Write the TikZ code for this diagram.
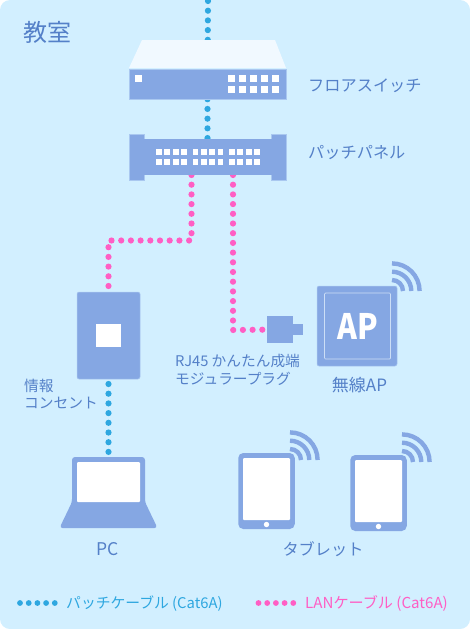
\documentclass[tikz,border=0pt]{standalone}
\usepackage{fontspec}
\setmainfont{Noto Sans CJK JP}
\usepackage{xcolor}
\usetikzlibrary{positioning,backgrounds}
\definecolor{roomc}{RGB}{210,239,255}
\definecolor{devc}{RGB}{133,167,227}
\definecolor{edgec}{RGB}{170,200,240}
\definecolor{labelc}{RGB}{84,128,200}
\definecolor{patchc}{RGB}{46,167,224}
\definecolor{lanc}{RGB}{255,94,196}
\definecolor{lidc}{RGB}{241,249,255}
\pgfdeclarelayer{roomlayer}
\pgfsetlayers{roomlayer,background,main}
\tikzset{
  room/.style={fill=roomc, rounded corners=10pt, minimum width=470pt, minimum height=629pt, inner sep=0pt},
  dev/.style={fill=devc, draw=edgec, line width=0.5pt, inner sep=0pt},
  hole/.style={fill=white, inner sep=0pt},
  lbl/.style={font=\fontsize{16.2}{19}\selectfont, text=labelc, inner sep=0pt, align=left},
  smalllbl/.style={lbl, anchor=north west, font=\fontsize{14.7}{17.7}\selectfont},
  patchcable/.style={draw=patchc, line width=6.2pt, line cap=round, dash pattern=on 0pt off 9.7pt},
  lancable/.style={draw=lanc, line width=6.2pt, line cap=round, dash pattern=on 0pt off 9.7pt},
  keydot/.style={circle, inner sep=0pt, minimum size=5.8pt},
  wave/.style={draw=devc, line width=4.4pt}
}
\newcommand{\wifi}[2]{%
  \foreach \r in {11,19.3,27.6}
    \draw[wave] (#1,#2) ++(0,-\r) arc[start angle=90, end angle=0, radius=\r pt];
}
\begin{document}
\begin{tikzpicture}[x=1pt,y=-1pt]
  \useasboundingbox (0,0) rectangle (470,629);
  \begin{pgfonlayer}{roomlayer}
    \node[room] (classroom) at (235,314.5) {};
  \end{pgfonlayer}

  % devices
  \fill[lidc] (142,40) -- (275,40) -- (286,68) -- (129,68) -- cycle;
  \node[dev, minimum width=157pt, minimum height=30pt] (flswitch) at (207.5,84) {};
  \node[hole, minimum size=7pt] (uplink) at (138.5,78.5) {};
  \foreach \x in {0,...,4} \foreach \y in {0,1}
    \node[hole, minimum size=7pt] (swport\x\y) at (231.5+11*\x,78.5+11*\y) {};

  \node[dev, minimum width=15pt, minimum height=46pt] (flangeL) at (136.5,157) {};
  \node[dev, minimum width=15pt, minimum height=46pt] (flangeR) at (278.5,157) {};
  \node[fill=devc, inner sep=0pt, minimum width=128pt, minimum height=36pt] (panel) at (207.5,157) {};
  \foreach \x in {159,167.3,175.7,184, 195.5,203.8,212.2,220.5, 232,240.3,248.7,257} {
    \node[hole, minimum width=5.8pt, minimum height=6pt] at (\x,152) {};
    \node[hole, minimum width=5.8pt, minimum height=6pt] at (\x,162) {};
  }

  \node[dev, rounded corners=2pt, minimum width=63pt, minimum height=87pt] (outlet) at (108.5,335.5) {};
  \node[hole, minimum width=25pt, minimum height=23pt] (jack) at (108.5,335.5) {};

  \node[fill=devc, inner sep=0pt, minimum width=26pt, minimum height=27pt] (plug) at (280,329.5) {};
  \node[fill=devc, inner sep=0pt, minimum width=10pt, minimum height=11pt, right=0pt of plug] (plugtab) {};

  \node[dev, rounded corners=2pt, minimum size=80pt] (ap) at (357,326) {};
  \node[draw=edgec!60!white, line width=0.7pt, inner sep=0pt, rounded corners=1pt, minimum size=66pt,
    font=\fontsize{35}{35}\selectfont\bfseries, text=white] (aplabel) at (357.5,326) {\scalebox{0.86}[1]{AP}};
  \wifi{392}{291}

  \fill[devc, rounded corners=3pt] (72,502) -- (72,457) -- (145,457) -- (145,502) -- (157.5,528) -- (59.5,528) -- cycle;
  \node[hole, rounded corners=1pt, minimum width=63pt, minimum height=40pt] (pcscreen) at (108.5,482) {};
  \coordinate (pctop) at (108.5,457);

  \node[fill=devc, rounded corners=5pt, inner sep=0pt, minimum width=56.5pt, minimum height=76pt] (tabA) at (266.5,491) {};
  \node[hole, rounded corners=1pt, minimum width=47pt, minimum height=62pt] at (266.5,489) {};
  \node[hole, circle, minimum size=5.4pt] at (266.5,524.5) {};
  \wifi{290}{460}

  \node[fill=devc, rounded corners=5pt, inner sep=0pt, minimum width=56.5pt, minimum height=76pt] (tabB) at (378.5,493) {};
  \node[hole, rounded corners=1pt, minimum width=47pt, minimum height=62pt] at (378.5,491) {};
  \node[hole, circle, minimum size=5.4pt] at (378.5,526.5) {};
  \wifi{402}{462}

  % labels
  \node[lbl, anchor=west, font=\fontsize{24}{26}\selectfont] (roomname) at (23,32) {教室};
  \node[lbl, anchor=west] at (308,85.5) {フロアスイッチ};
  \node[lbl, anchor=west] at (308,153) {パッチパネル};
  \node[smalllbl] at (175,354) {RJ45 かんたん成端\\モジュラープラグ};
  \node[lbl, font=\fontsize{17}{19}\selectfont] at (359.5,385.5) {無線AP};
  \node[smalllbl] at (24,378.5) {情報\\コンセント};
  \node[lbl, font=\fontsize{17.5}{19}\selectfont] at (108,549) {PC};
  \node[lbl] at (323,549.5) {タブレット};

  % cables
  \coordinate (riser) at (208,1);
  \coordinate (lanA) at (191.5,175);
  \coordinate (lanB) at (233,175);
  \coordinate (turnA) at (191.5,240.5);
  \coordinate (turnB) at (108.5,240.5);
  \coordinate (turnC) at (233,330);
  \coordinate (outletout) at (108.5,384);
  \begin{scope}[on background layer]
    \draw[patchcable] (riser) -- (flswitch);
    \draw[patchcable] (flswitch) -- (panel);
    \draw[patchcable] (outletout) -- (pctop);
    \draw[lancable] (lanA) -- (turnA) -- (turnB) -- (outlet.north);
    \draw[lancable] (lanB) -- (turnC) -- (plug);
  \end{scope}

  % legend
  \foreach \x in {20,28.7,37.4,46.1,54.8} \node[keydot, fill=patchc] at (\x,603) {};
  \foreach \x in {258.5,267.2,275.9,284.6,293.3} \node[keydot, fill=lanc] at (\x,603) {};
  \node[lbl, anchor=west, text=patchc, font=\fontsize{14.8}{17}\selectfont] (patchkey) at (66,604) {パッチケーブル (Cat6A)};
  \node[lbl, anchor=west, text=lanc, font=\fontsize{15.1}{17}\selectfont] (lankey) at (305,604) {LANケーブル (Cat6A)};
\end{tikzpicture}
\end{document}
